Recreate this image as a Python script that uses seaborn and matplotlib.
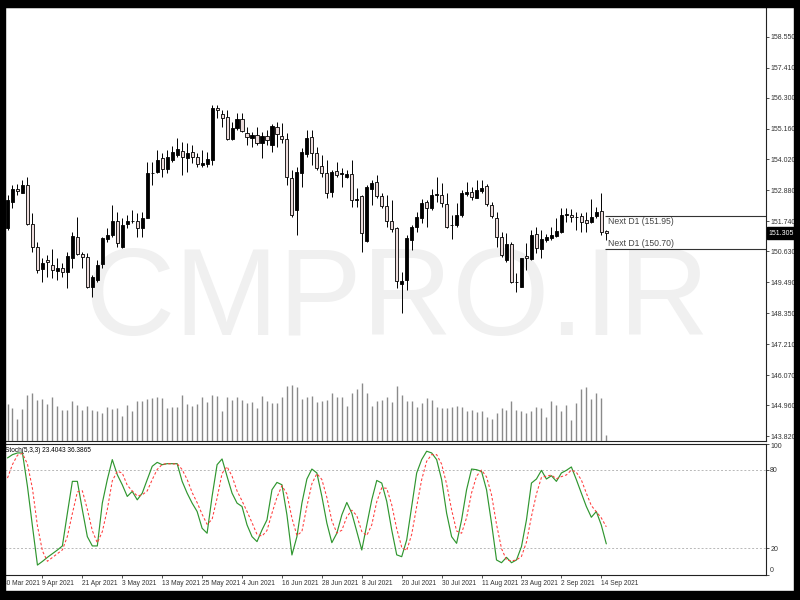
import numpy as np
import pandas as pd
import matplotlib
matplotlib.use("Agg")
import matplotlib.pyplot as plt
import matplotlib.transforms as mtransforms
from matplotlib.patches import Rectangle
import seaborn as sns

# --- daily candles (30 Mar - 14 Sep 2021) ---
opens = [151.48, 152.46, 152.92, 152.80, 153.08, 151.63, 150.80, 149.98, 150.31, 150.13,
         149.92, 150.00, 149.88, 150.37, 151.15, 150.53, 150.44, 149.33, 149.57, 150.15,
         151.07, 151.24, 151.75, 150.80, 151.63, 151.75, 151.75, 151.48, 151.87, 153.51,
         153.57, 154.06, 153.67, 154.00, 154.18, 154.34, 154.09, 154.28, 154.12, 153.82,
         153.84, 154.00, 155.93, 155.69, 155.60, 154.76, 155.17, 155.51, 154.98, 154.80,
         154.92, 154.62, 154.89, 154.55, 155.20, 154.90, 154.78, 153.32, 152.16, 153.53,
         154.21, 154.84, 154.25, 153.79, 153.51, 152.83, 153.59, 153.47, 153.36, 153.47,
         152.53, 152.69, 151.03, 152.92, 153.18, 152.69, 152.30, 151.76, 151.48, 149.41,
         149.58, 151.05, 151.54, 151.85, 152.44, 152.22, 152.71, 152.71, 152.37, 151.60,
         151.61, 151.97, 152.74, 152.81, 152.59, 152.87, 153.04, 152.34, 151.85, 151.15,
         150.31, 150.89, 149.51, 149.33, 150.47, 150.34, 151.27, 150.71, 151.05, 151.11,
         151.20, 151.36, 151.99, 151.97, 151.89, 151.94, 151.79, 151.70, 151.94, 152.13,
         151.38]
highs = [152.71, 153.08, 153.10, 153.26, 153.39, 152.03, 150.99, 150.37, 150.50, 150.72,
         150.37, 150.19, 150.62, 151.36, 151.91, 150.62, 150.56, 149.76, 150.31, 151.17,
         151.50, 152.34, 152.09, 151.85, 151.97, 152.16, 152.03, 152.09, 153.94, 153.94,
         154.37, 154.25, 154.37, 154.53, 154.80, 154.68, 154.62, 154.55, 154.25, 154.37,
         154.31, 156.03, 156.03, 155.84, 155.84, 155.41, 155.72, 155.72, 155.23, 155.05,
         155.23, 155.05, 155.11, 155.32, 155.41, 155.35, 154.98, 153.63, 153.75, 154.43,
         155.11, 155.11, 154.49, 154.18, 154.00, 153.63, 153.94, 153.69, 153.63, 154.00,
         152.96, 152.71, 153.08, 153.26, 153.45, 152.77, 152.71, 152.53, 151.54, 149.88,
         151.24, 151.60, 152.09, 152.55, 152.53, 152.92, 153.39, 153.17, 152.77, 151.97,
         152.40, 152.90, 153.20, 152.99, 153.26, 153.26, 153.12, 152.46, 152.09, 151.36,
         151.30, 150.99, 149.82, 150.38, 150.93, 151.42, 151.54, 151.42, 151.27, 151.54,
         151.85, 152.22, 152.22, 152.18, 152.09, 152.03, 152.09, 152.55, 152.28, 152.77,
         151.42]
lows = [151.42, 152.22, 152.71, 152.77, 151.60, 150.62, 149.82, 149.51, 149.70, 149.64,
        149.57, 149.70, 149.29, 150.00, 150.50, 150.00, 149.29, 148.96, 149.51, 150.00,
        150.99, 151.17, 150.80, 150.74, 151.50, 151.66, 151.17, 151.17, 151.85, 153.08,
        153.51, 153.39, 153.51, 153.94, 154.12, 153.45, 153.55, 153.88, 153.75, 153.75,
        153.75, 153.82, 155.54, 155.23, 154.74, 154.74, 155.11, 155.02, 154.55, 154.49,
        154.55, 154.06, 154.55, 154.28, 154.49, 154.62, 153.08, 151.91, 151.23, 153.02,
        154.12, 153.82, 153.63, 153.39, 152.59, 152.65, 153.39, 153.02, 153.32, 152.28,
        152.28, 150.62, 150.99, 152.34, 152.59, 152.22, 151.54, 151.36, 149.27, 148.34,
        149.21, 150.68, 151.36, 151.67, 151.54, 152.16, 152.46, 152.28, 151.48, 151.07,
        151.54, 151.91, 152.67, 152.53, 152.59, 152.77, 152.30, 151.85, 150.80, 150.44,
        150.25, 149.45, 149.14, 149.30, 149.94, 150.31, 150.56, 150.37, 150.99, 151.05,
        151.17, 151.32, 151.73, 151.73, 151.42, 151.36, 151.36, 151.67, 151.85, 151.24,
        151.05]
closes = [152.53, 152.92, 152.85, 153.08, 151.63, 150.80, 149.94, 150.19, 150.22, 149.94,
          150.03, 149.86, 150.47, 151.20, 150.53, 150.41, 149.33, 149.70, 150.13, 151.14,
          151.24, 151.75, 150.93, 151.60, 151.75, 151.74, 151.48, 151.85, 153.51, 153.53,
          154.00, 153.67, 154.12, 154.28, 154.39, 154.10, 154.25, 154.10, 153.85, 153.88,
          154.03, 155.93, 155.84, 155.56, 154.78, 155.17, 155.51, 155.08, 154.84, 154.92,
          154.64, 154.89, 154.74, 155.25, 154.96, 154.78, 153.39, 151.97, 153.57, 154.28,
          154.82, 154.25, 153.69, 153.51, 152.77, 153.57, 153.45, 153.51, 153.48, 152.53,
          152.56, 151.30, 153.02, 153.14, 152.67, 152.30, 151.75, 151.44, 149.55, 149.55,
          151.11, 151.54, 151.89, 152.43, 152.22, 152.71, 152.74, 152.40, 151.54, 151.61,
          151.97, 152.80, 152.83, 152.65, 152.90, 152.98, 152.37, 151.94, 151.15, 150.50,
          150.89, 149.51, 149.50, 150.37, 150.40, 151.24, 150.74, 151.07, 151.15, 151.24,
          151.38, 151.99, 152.01, 151.89, 151.88, 151.73, 151.69, 151.91, 152.09, 151.36,
          151.305]
# tick volume (relative units)
volumes = [112, 100, 65, 97, 139, 145, 122, 126, 112, 131,
           105, 94, 94, 120, 109, 92, 105, 92, 89, 83,
           103, 95, 98, 75, 108, 89, 120, 120, 125, 129,
           133, 128, 98, 101, 103, 139, 111, 106, 111, 131,
           117, 139, 136, 89, 131, 122, 133, 122, 114, 117,
           98, 135, 120, 114, 114, 131, 165, 167, 162, 125,
           131, 136, 117, 120, 122, 145, 133, 133, 106, 145,
           156, 174, 145, 106, 120, 122, 133, 117, 165, 139,
           120, 120, 103, 114, 128, 122, 103, 100, 98, 103,
           106, 103, 89, 94, 86, 89, 72, 67, 83, 100,
           92, 120, 92, 89, 83, 89, 103, 100, 72, 120,
           109, 89, 109, 62, 115, 156, 162, 125, 145, 129,
           19]
# Stochastic (5,3,3): main %K and signal %D
stoch_k = [89.0, 91.5, 92.8, 92.8, 67.2, 36.9, 7.2, 10.0, 13.1, 15.9,
           18.7, 21.8, 46.8, 71.1, 71.1, 49.4, 28.9, 21.8, 21.8, 54.5,
           72.4, 87.7, 76.2, 68.5, 59.6, 63.4, 57.0, 62.1, 72.4, 82.6,
           85.6, 83.8, 84.6, 84.6, 84.6, 71.1, 62.1, 54.5, 48.1, 35.3,
           31.5, 59.6, 83.8, 88.2, 74.9, 62.1, 54.5, 51.9, 37.9, 28.9,
           25.1, 34.0, 41.7, 64.7, 70.3, 68.5, 45.5, 14.9, 28.9, 54.5,
           72.9, 80.5, 77.5, 59.6, 39.2, 24.3, 31.5, 45.5, 55.0, 46.8,
           32.8, 18.7, 37.9, 57.0, 71.8, 69.8, 55.8, 34.0, 15.0, 13.6,
           26.4, 51.9, 77.5, 87.7, 94.1, 92.8, 87.7, 72.4, 46.8, 28.9,
           23.8, 41.7, 64.7, 80.5, 80.0, 78.7, 64.7, 39.2, 11.1, 9.0,
           13.1, 9.0, 11.1, 21.3, 41.7, 69.8, 72.9, 79.5, 72.9, 75.4,
           71.1, 77.5, 79.5, 82.1, 72.4, 62.1, 51.9, 43.7, 48.1, 37.7,
           23.4043]
stoch_d = [73.6, 84.0, 91.1, 92.4, 84.3, 65.6, 37.1, 18.0, 10.1, 13.0,
           15.9, 18.8, 29.1, 46.6, 63.0, 63.9, 49.8, 33.4, 24.2, 32.7,
           49.6, 71.5, 78.8, 77.5, 68.1, 63.8, 60.0, 60.8, 63.8, 72.4,
           80.2, 84.0, 84.7, 84.3, 84.6, 80.1, 72.6, 62.6, 54.9, 46.0,
           38.3, 42.1, 58.3, 77.2, 82.3, 75.1, 63.8, 56.2, 48.1, 39.6,
           30.6, 29.3, 33.6, 46.8, 58.9, 67.8, 61.4, 43.0, 29.8, 32.8,
           52.1, 69.3, 77.0, 72.5, 58.8, 41.0, 31.7, 33.8, 44.0, 49.1,
           44.9, 32.8, 29.8, 37.9, 55.6, 66.2, 65.8, 53.2, 34.9, 20.9,
           18.3, 30.6, 51.9, 72.4, 86.4, 91.5, 91.5, 84.3, 69.0, 49.4,
           33.2, 31.5, 43.4, 62.3, 75.1, 79.7, 74.5, 60.9, 38.3, 19.8,
           11.1, 10.4, 11.1, 13.8, 24.7, 44.3, 61.5, 74.1, 75.1, 75.9,
           73.1, 74.7, 76.0, 79.7, 78.0, 72.2, 62.1, 52.6, 47.9, 43.2,
           36.3865]

date_labels = ["30 Mar 2021", "9 Apr 2021", "21 Apr 2021", "3 May 2021", "13 May 2021",
               "25 May 2021", "4 Jun 2021", "16 Jun 2021", "28 Jun 2021", "8 Jul 2021",
               "20 Jul 2021", "30 Jul 2021", "11 Aug 2021", "23 Aug 2021", "2 Sep 2021",
               "14 Sep 2021"]
price_ticks = [158.550, 157.410, 156.300, 155.160, 154.020, 152.880, 151.740,
               150.630, 149.490, 148.350, 147.210, 146.070, 144.960, 143.820]
top_tick = 159.690
next_d1 = [151.95, 150.70]
last_price = 151.305
stoch_levels = [20, 80]

sns.set_style("white")
plt.rcParams['font.family'] = ['Liberation Sans', 'DejaVu Sans']

df = pd.DataFrame({'open': opens, 'high': highs, 'low': lows, 'close': closes,
                   'volume': volumes, 'k': stoch_k, 'd': stoch_d})
df['bar'] = np.arange(len(df))
df['bull'] = df['close'] >= df['open']

# layout in pixels of an 800x600 canvas
W, H = 800, 600
BAR_PX, BAR0_PX = 4.99, 7.5
left_px, right_px = 5, 766
x_lo = (left_px - BAR0_PX) / BAR_PX
x_hi = (right_px - BAR0_PX) / BAR_PX

fig = plt.figure(figsize=(8, 6), dpi=100)
fig.patch.set_facecolor('white')
ax = fig.add_axes([left_px / W, 1 - 441 / H, (right_px - left_px) / W, 434 / H])
ax_st = fig.add_axes([left_px / W, 1 - 574.5 / H, (right_px - left_px) / W, 131 / H])

tick_font = 5.0
date_font = 4.8
frame_col = '#222222'
label_col = '#333333'

# --- watermark ---
ax.text(0.515, 0.245, 'CMPRO.IR', transform=ax.transAxes, ha='center', va='baseline',
        fontsize=90, color='#f0f0f0', zorder=0)

# --- volumes (bottom of main window) ---
ax_vol = ax.twinx()
ax_vol.vlines(df['bar'], 0, df['volume'], color='#8a8a8a', lw=1.0)
ax_vol.set_ylim(0, 1302)
ax_vol.set_yticks([])
for s in ax_vol.spines.values():
    s.set_visible(False)

# --- candles ---
body_lo = df[['open', 'close']].min(axis=1)
body_h = (df['close'] - df['open']).abs().clip(lower=0.012)
fills = np.where(df['bull'], 'black', '#ecdcdc')
ax.vlines(df['bar'], df['low'], df['high'], color='black', lw=0.7, zorder=2)
ax.bar(df['bar'], body_h, bottom=body_lo, width=0.62, color=fills,
       edgecolor='black', linewidth=0.6, zorder=3)

ax.set_xlim(x_lo, x_hi)
ax_vol.set_xlim(x_lo, x_hi)
ax.set_ylim(143.636, 159.644)

# next day levels
last_bar = df['bar'].iloc[-1]
ax.hlines(next_d1, last_bar - 0.2, x_hi, color='#333333', lw=0.8, zorder=2)
ax.annotate(f'Next D1 ({next_d1[0]:.2f})', xy=(last_bar + 0.4, next_d1[0]),
            xytext=(0, -1.2), textcoords='offset points', ha='left', va='top',
            fontsize=6.2, color='#444444')
ax.annotate(f'Next D1 ({next_d1[1]:.2f})', xy=(last_bar + 0.4, next_d1[1]),
            xytext=(0, 1.2), textcoords='offset points', ha='left', va='bottom',
            fontsize=6.2, color='#444444')

# price scale on the right
ax.yaxis.tick_right()
ax.set_yticks(price_ticks)
ax.set_yticklabels([f'{p:.3f}' for p in price_ticks])
ax.tick_params(axis='y', right=True, left=False, length=2, width=0.6, pad=1,
               labelsize=tick_font, colors=label_col)
ax.tick_params(axis='x', bottom=False, labelbottom=False)
blend = mtransforms.blended_transform_factory(ax.transAxes, ax.transData)
ax.annotate(f'{top_tick:.3f}', xy=(1, top_tick), xycoords=blend, xytext=(2.2, 0),
            textcoords='offset points', ha='left', va='center', fontsize=tick_font,
            color=label_col, annotation_clip=False)
ax.annotate(f'{last_price:.3f}', xy=(1, last_price), xycoords=blend, xytext=(2.0, 0),
            textcoords='offset points', ha='left', va='center', fontsize=tick_font,
            color='white', annotation_clip=False,
            bbox=dict(boxstyle='square,pad=0.3', facecolor='black', edgecolor='black'))
for side in ['top', 'right', 'bottom']:
    ax.spines[side].set_color(frame_col)
    ax.spines[side].set_linewidth(0.8)
ax.spines['left'].set_visible(False)

# --- stochastic window ---
sns.lineplot(data=df, x='bar', y='k', ax=ax_st, color='#2f962f', lw=0.85)
sns.lineplot(data=df, x='bar', y='d', ax=ax_st, color='#ff3b3b', lw=0.75,
             linestyle=(0, (2.5, 2)))
for lvl in stoch_levels:
    ax_st.axhline(lvl, color='#b8b8b8', lw=0.7, ls=(0, (2, 2)), zorder=0)
ax_st.set_xlim(x_lo, x_hi)
ax_st.set_ylim(0, 100)
ax_st.set_xlabel('')
ax_st.set_ylabel('')
ax_st.text(0.0, 0.97, f'Stoch(5,3,3) {stoch_k[-1]:.4f} {stoch_d[-1]:.4f}',
           transform=ax_st.transAxes, ha='left', va='top', fontsize=4.7, color='black')

ax_st.yaxis.tick_right()
ax_st.set_yticks([0, 20, 80, 100])
ax_st.set_yticklabels(['0', '20', '80', '100'])
ax_st.tick_params(axis='y', right=True, left=False, length=2, width=0.6, pad=1,
                  labelsize=tick_font, colors=label_col)
ylabs = ax_st.get_yticklabels()
ylabs[0].set_va('bottom')
ylabs[-1].set_va('top')

# date scale: one label every 8 bars, the last one on the 2nd to last bar
label_bars = [last_bar - 1 - 8 * k for k in range(len(date_labels))][::-1]
shown = [(b, t) for b, t in zip(label_bars, date_labels) if b >= x_lo]
ax_st.set_xticks([b for b, _ in shown])
ax_st.set_xticklabels([t for _, t in shown], ha='left')
ax_st.tick_params(axis='x', bottom=True, length=2, width=0.6, pad=2.2,
                  labelsize=date_font, colors=label_col)
for b, t in zip(label_bars, date_labels):
    if b < x_lo:
        ax_st.annotate(t, xy=(b, 0), xytext=(0, -4.2), textcoords='offset points',
                       ha='left', va='top', fontsize=date_font, color=label_col,
                       annotation_clip=False)
for side in ['top', 'right', 'bottom']:
    ax_st.spines[side].set_color(frame_col)
    ax_st.spines[side].set_linewidth(0.8)
ax_st.spines['left'].set_visible(False)

# black window frame around the screenshot
for (x0, y0, w, h) in [(0, 0, 5, H), (0, 0, W, 7), (794, 0, 6, H), (0, 591, W, 9)]:
    fig.add_artist(Rectangle((x0 / W, 1 - (y0 + h) / H), w / W, h / H,
                             transform=fig.transFigure, color='black', zorder=20))

fig.savefig('out.png', dpi=100)
